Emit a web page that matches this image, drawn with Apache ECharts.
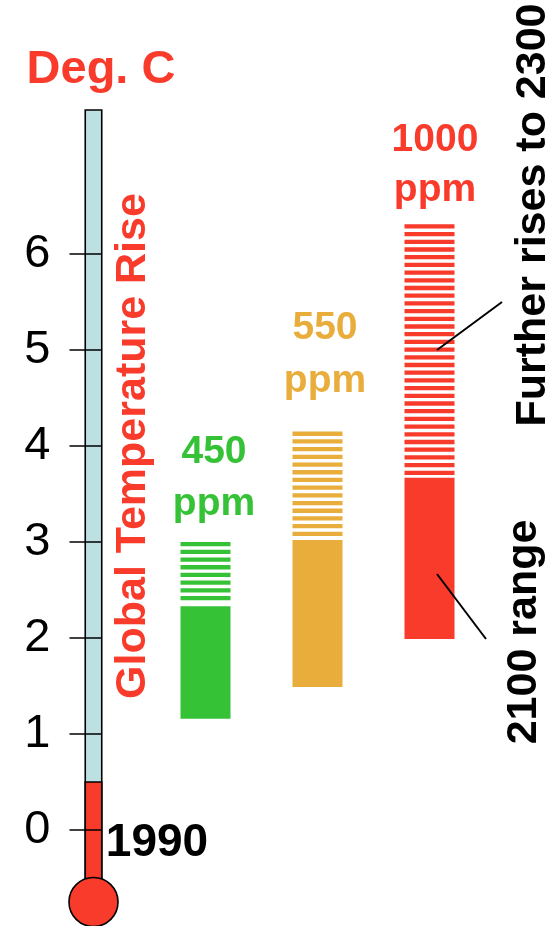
<!DOCTYPE html>
<html>
<head>
<meta charset="utf-8">
<script src="https://cdn.jsdelivr.net/npm/echarts@6/dist/echarts.min.js"></script>
<style>
html,body{margin:0;padding:0;background:#fff;}
#chart{width:556px;height:926px;}
</style>
</head>
<body>
<div id="chart"></div>
<script>
// ---- data ----
const categories = ['1990', '450 ppm', '550 ppm', '1000 ppm'];
const scenarioLabels = ['450', '550', '1000'];
const range2100Low = [1.16, 1.49, 1.99];
const range2100High = [2.33, 3.02, 3.67];
const rise2300High = [3.0, 4.15, 6.31];
const rise1990 = 0.5;
const thermoTop = 7.5;
const thermoBulb = -0.75;
const tickValues = [0, 1, 2, 3, 4, 5, 6];

const FONT = "'Liberation Sans', Arial, Helvetica, sans-serif";
const RED = '#f83b2b';
const GREEN = '#36c236';
const ORANGE = '#e9ad3c';
const TUBE = '#bde0e3';
const seriesColors = [GREEN, ORANGE, RED];

const chart = echarts.init(document.getElementById('chart'), null, {renderer: 'canvas'});

const scenarioData = scenarioLabels.map((s, i) => [i + 1, range2100Low[i], range2100High[i], rise2300High[i]]);

function renderScenario(params, api) {
  const xi = api.value(0);
  const pLow = api.coord([xi, api.value(1)]);
  const pMid = api.coord([xi, api.value(2)]);
  const pHigh = api.coord([xi, api.value(3)]);
  const w = 50;
  const x0 = pLow[0] - w / 2;
  const color = seriesColors[params.dataIndex];
  const children = [];
  children.push({
    type: 'rect',
    shape: {x: x0, y: pMid[1], width: w, height: pLow[1] - pMid[1]},
    style: {fill: color}
  });
  const period = 7.7, band = 4.3;
  for (let y = pHigh[1]; y + band <= pMid[1] - 1.5; y += period) {
    children.push({
      type: 'rect',
      shape: {x: x0, y: y, width: w, height: band},
      style: {fill: color}
    });
  }
  return {type: 'group', children: children};
}

function renderThermo(params, api) {
  const pTop = api.coord([0, thermoTop]);
  const pLevel = api.coord([0, api.value(1)]);
  const pBulb = api.coord([0, thermoBulb]);
  const tw = 16.5;
  const x0 = pTop[0] - tw / 2;
  return {
    type: 'group',
    children: [
      {type: 'rect', shape: {x: x0, y: pTop[1], width: tw, height: pBulb[1] - pTop[1]},
        style: {fill: TUBE, stroke: '#000', lineWidth: 1.6}},
      {type: 'rect', shape: {x: x0, y: pLevel[1], width: tw, height: pBulb[1] - pLevel[1]},
        style: {fill: RED, stroke: '#000', lineWidth: 1.6}},
      {type: 'circle', shape: {cx: pBulb[0], cy: pBulb[1], r: 24.5},
        style: {fill: RED, stroke: '#000', lineWidth: 1.6}}
    ]
  };
}

function txt(text, x, y, size, color, extra) {
  return Object.assign({
    type: 'text', x: x, y: y, z: 100,
    style: {text: text, fill: color, font: 'bold ' + size + 'px ' + FONT,
      textAlign: 'center', textVerticalAlign: 'middle'}
  }, extra || {});
}

const option = {
  animation: false,
  backgroundColor: '#fff',
  grid: {left: 37.5, width: 448, top: 62, height: 864},
  xAxis: {type: 'category', data: categories, show: false},
  yAxis: {
    type: 'value', min: -1, max: 8, interval: 1, offset: -64, z: 10,
    splitLine: {show: false},
    axisLine: {show: false},
    axisTick: {show: true, length: 32, customValues: tickValues, lineStyle: {color: '#000', width: 1.6}},
    axisLabel: {show: true, margin: 51, customValues: tickValues, color: '#000',
      fontSize: 47, fontFamily: FONT}
  },
  series: [
    {type: 'custom', renderItem: renderThermo, data: [[0, rise1990]], clip: false, z: 2},
    {type: 'custom', renderItem: renderScenario, data: scenarioData, clip: false, z: 2}
  ],
  graphic: [
    txt('Deg. C', 101, 70, 47, RED),
    txt('1990', 157, 843, 46, '#000'),
    txt('450', 214, 452, 39, GREEN),
    txt('ppm', 214, 504, 39, GREEN),
    txt('550', 325, 328, 39, ORANGE),
    txt('ppm', 325, 381, 39, ORANGE),
    txt('1000', 435, 140, 39, RED),
    txt('ppm', 435, 190, 39, RED),
    txt('Global Temperature Rise', 133, 446, 43, RED, {rotation: Math.PI / 2}),
    txt('Further rises to 2300', 533, 215, 43, '#000', {rotation: Math.PI / 2}),
    txt('2100 range', 524, 632, 43, '#000', {rotation: Math.PI / 2}),
    {type: 'line', z: 100, shape: {x1: 437, y1: 350, x2: 502, y2: 302}, style: {stroke: '#000', lineWidth: 2}},
    {type: 'line', z: 100, shape: {x1: 437, y1: 574, x2: 486, y2: 639}, style: {stroke: '#000', lineWidth: 2}}
  ]
};
chart.setOption(option);
</script>
</body>
</html>
